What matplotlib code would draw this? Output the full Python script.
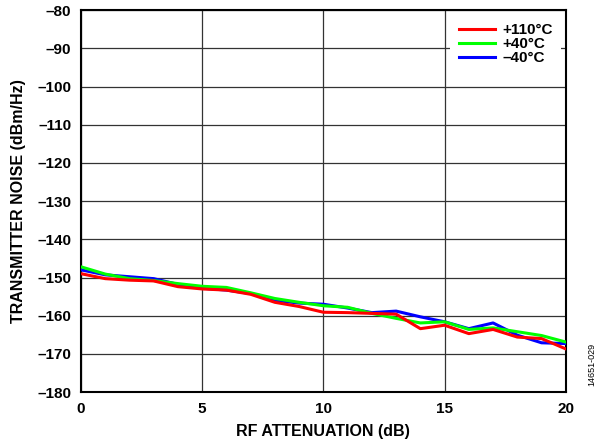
#!/usr/bin/env python3
import matplotlib
matplotlib.use("Agg")
import matplotlib.pyplot as plt

# RF attenuation (dB) and transmitter noise (dBm/Hz) per temperature
atten = list(range(0, 21))
noise_110 = [-149.0, -150.3, -150.7, -150.9, -152.4, -153.0, -153.3, -154.4, -156.5, -157.6, -159.1,
             -159.2, -159.4, -159.6, -163.4, -162.5, -164.7, -163.6, -165.6, -166.0, -168.7]
noise_40 = [-147.2, -149.1, -150.3, -150.8, -151.6, -152.3, -152.6, -154.0, -155.5, -156.5, -157.4,
            -157.8, -159.4, -160.7, -161.9, -161.6, -163.6, -163.2, -164.2, -165.2, -166.9]
noise_m40 = [-148.0, -149.3, -149.8, -150.3, -151.8, -152.8, -153.3, -154.2, -156.0, -156.7, -157.0,
             -158.0, -159.2, -158.8, -160.3, -161.6, -163.4, -161.9, -165.1, -167.1, -167.3]

xticks = [0, 5, 10, 15, 20]
yticks = [-80, -90, -100, -110, -120, -130, -140, -150, -160, -170, -180]


def plot_noise() -> None:
    plt.rcParams["font.family"] = ["Liberation Sans", "DejaVu Sans"]
    plt.rcParams["font.weight"] = "bold"
    fig = plt.figure(figsize=(6, 4.44), dpi=100)
    ax = fig.add_axes([0.135, 0.117, 0.808, 0.86])

    ax.plot(atten, noise_m40, color="#0000ff", lw=2.2, label="–40°C", zorder=3)
    ax.plot(atten, noise_40, color="#00ff00", lw=2.2, label="+40°C", zorder=4)
    ax.plot(atten, noise_110, color="#ff0000", lw=2.2, label="+110°C", zorder=5)

    ax.set_xlim(0, 20)
    ax.set_ylim(-180, -80)
    ax.set_xticks(xticks)
    ax.set_xticklabels([str(t) for t in xticks])
    ax.set_yticks(yticks)
    ax.set_yticklabels([str(t).replace("-", "–") for t in yticks])
    ax.tick_params(length=0, labelsize=11, pad=7)
    ax.grid(True, color="#333333", lw=0.9)
    ax.set_axisbelow(True)
    for s in ax.spines.values():
        s.set_linewidth(1.5)
        s.set_color("black")

    ax.set_xlabel("RF ATTENUATION (dB)", fontsize=11.5, fontweight="bold", labelpad=6)
    ax.set_ylabel("TRANSMITTER NOISE (dBm/Hz)", fontsize=11.5, fontweight="bold", labelpad=8)

    handles, labels = ax.get_legend_handles_labels()
    leg = ax.legend(handles[::-1], labels[::-1], loc="upper right",
                    prop={"weight": "bold", "size": 11}, handlelength=2.4,
                    labelspacing=0.0, handletextpad=0.45, borderpad=0.55,
                    fancybox=False, framealpha=1, borderaxespad=0.3)
    leg.get_frame().set_edgecolor("white")
    leg.get_frame().set_linewidth(0)
    leg.set_zorder(10)

    fig.text(0.987, 0.13, "14651-029", rotation=90, fontsize=6.5, fontweight="normal",
             ha="center", va="bottom")

    fig.savefig("out.png", dpi=100)
    plt.close(fig)


def main() -> None:
    plot_noise()


if __name__ == "__main__":
    main()
